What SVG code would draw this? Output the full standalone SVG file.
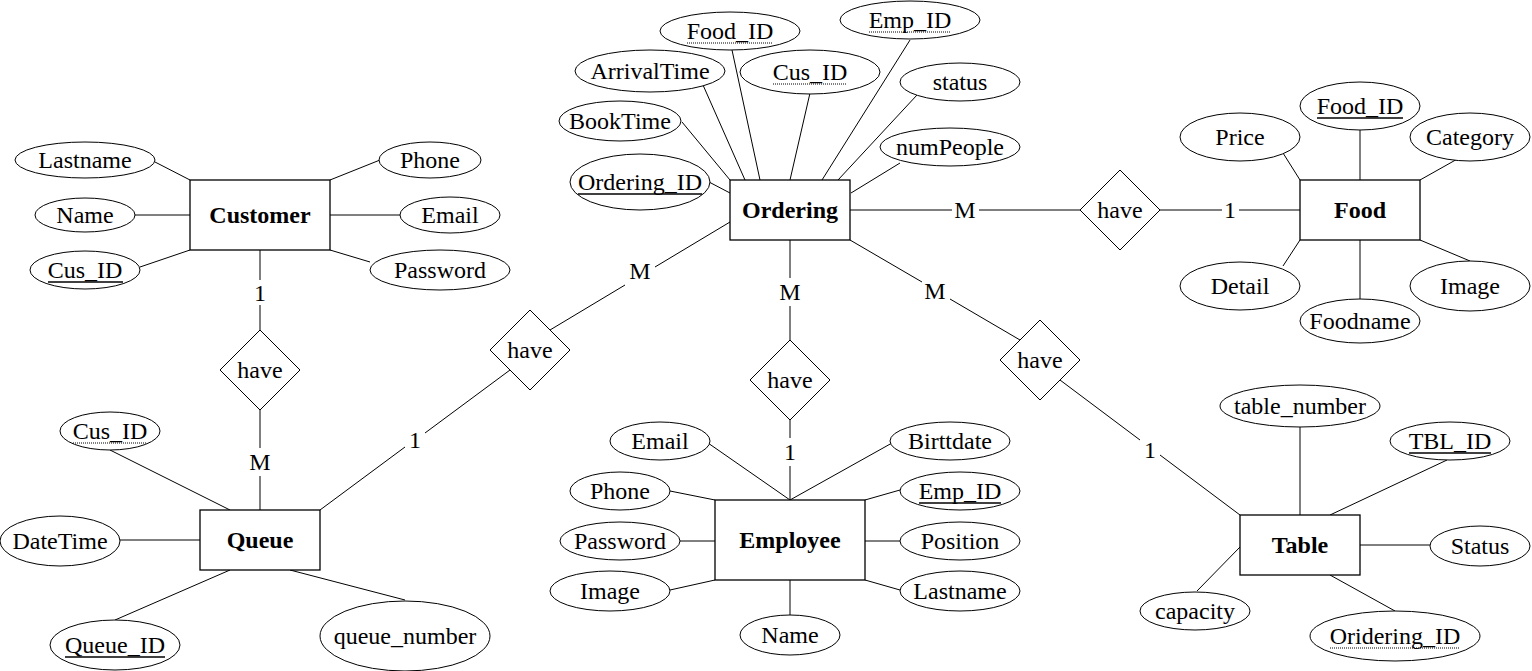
<svg xmlns="http://www.w3.org/2000/svg" width="1532" height="671" viewBox="0 0 1532 671">
<style>
text{font-family:"Liberation Serif","Times New Roman",serif;font-size:24px;text-anchor:middle;fill:#000}
.b{font-weight:bold}
ellipse,rect.n,polygon{fill:#fff;stroke:#000;stroke-width:1}
rect.n{stroke-width:1.3}
rect.bg{fill:#fff;stroke:none}
line{stroke:#000;stroke-width:1}
.u{stroke-width:1.5}
.d{stroke-width:1.2;stroke-dasharray:1 1}
</style>
<rect class="bg" width="1532" height="671"/>
<g id="connectors">
<line x1="155" y1="162" x2="190" y2="180"/>
<line x1="135" y1="215" x2="190" y2="215"/>
<line x1="140" y1="267" x2="190" y2="250"/>
<line x1="380" y1="160" x2="330" y2="180"/>
<line x1="400" y1="215" x2="330" y2="215"/>
<line x1="370" y1="262" x2="330" y2="250"/>
<line x1="260" y1="250" x2="260" y2="280"/>
<line x1="260" y1="305" x2="260" y2="330"/>
<line x1="260" y1="410" x2="260" y2="448"/>
<line x1="260" y1="476" x2="260" y2="510"/>
<line x1="110" y1="450" x2="230" y2="510"/>
<line x1="120" y1="540" x2="200" y2="540"/>
<line x1="115" y1="620" x2="230" y2="570"/>
<line x1="405" y1="600" x2="290" y2="570"/>
<line x1="682" y1="122" x2="730" y2="180"/>
<line x1="703" y1="85" x2="745" y2="180"/>
<line x1="732" y1="50" x2="760" y2="180"/>
<line x1="810" y1="93" x2="790" y2="180"/>
<line x1="910" y1="40" x2="822" y2="180"/>
<line x1="917" y1="95" x2="838" y2="180"/>
<line x1="900" y1="163" x2="851" y2="193"/>
<line x1="709" y1="182" x2="730" y2="193"/>
<line x1="730" y1="222" x2="655" y2="267"/>
<line x1="625" y1="285" x2="550" y2="330"/>
<line x1="510" y1="370" x2="425" y2="433"/>
<line x1="405" y1="447" x2="320" y2="510"/>
<line x1="790" y1="240" x2="790" y2="278"/>
<line x1="790" y1="306" x2="790" y2="340"/>
<line x1="790" y1="420" x2="790" y2="438"/>
<line x1="790" y1="466" x2="790" y2="500"/>
<line x1="850" y1="210" x2="952" y2="210"/>
<line x1="979" y1="210" x2="1080" y2="210"/>
<line x1="1160" y1="210" x2="1222" y2="210"/>
<line x1="1239" y1="210" x2="1300" y2="210"/>
<line x1="850" y1="240" x2="922" y2="282"/>
<line x1="950" y1="299" x2="1020" y2="340"/>
<line x1="1060" y1="380" x2="1140" y2="440"/>
<line x1="1160" y1="455" x2="1240" y2="515"/>
<line x1="1283" y1="153" x2="1300" y2="180"/>
<line x1="1360" y1="130" x2="1360" y2="180"/>
<line x1="1468" y1="153" x2="1420" y2="180"/>
<line x1="1283" y1="266" x2="1300" y2="240"/>
<line x1="1360" y1="299" x2="1360" y2="240"/>
<line x1="1470" y1="261" x2="1420" y2="240"/>
<line x1="708" y1="443" x2="790" y2="500"/>
<line x1="892" y1="443" x2="790" y2="500"/>
<line x1="670" y1="491" x2="715" y2="500"/>
<line x1="900" y1="490" x2="865" y2="500"/>
<line x1="680" y1="541" x2="715" y2="541"/>
<line x1="900" y1="541" x2="865" y2="541"/>
<line x1="670" y1="590" x2="715" y2="580"/>
<line x1="900" y1="590" x2="865" y2="580"/>
<line x1="790" y1="580" x2="790" y2="615"/>
<line x1="1300" y1="427" x2="1300" y2="515"/>
<line x1="1447" y1="460" x2="1330" y2="515"/>
<line x1="1430" y1="545" x2="1360" y2="545"/>
<line x1="1197" y1="591" x2="1240" y2="547"/>
<line x1="1395" y1="611" x2="1330" y2="575"/>
</g>
<g id="cardinalities">
<text x="260" y="301">1</text>
<text x="260" y="470">M</text>
<text x="640" y="279">M</text>
<text x="415" y="448">1</text>
<text x="790" y="300">M</text>
<text x="790" y="460">1</text>
<text x="965" y="218">M</text>
<text x="1230" y="218">1</text>
<text x="935" y="299">M</text>
<text x="1150" y="458">1</text>
</g>
<g id="customer"><rect class="n" x="190" y="180" width="140" height="70"/><text class="b" x="260" y="223">Customer</text></g>
<g id="ordering"><rect class="n" x="730" y="180" width="120" height="60"/><text class="b" x="790" y="218">Ordering</text></g>
<g id="food"><rect class="n" x="1300" y="180" width="120" height="60"/><text class="b" x="1360" y="218">Food</text></g>
<g id="queue"><rect class="n" x="200" y="510" width="120" height="60"/><text class="b" x="260" y="548">Queue</text></g>
<g id="employee"><rect class="n" x="715" y="500" width="150" height="80"/><text class="b" x="790" y="548">Employee</text></g>
<g id="table"><rect class="n" x="1240" y="515" width="120" height="60"/><text class="b" x="1300" y="553">Table</text></g>
<g id="have-customer-queue"><polygon points="260,330 300,370 260,410 220,370"/><text x="260" y="378">have</text></g>
<g id="have-ordering-queue"><polygon points="530,310 570,350 530,390 490,350"/><text x="530" y="358">have</text></g>
<g id="have-ordering-employee"><polygon points="790,340 830,380 790,420 750,380"/><text x="790" y="388">have</text></g>
<g id="have-ordering-table"><polygon points="1040,320 1080,360 1040,400 1000,360"/><text x="1040" y="368">have</text></g>
<g id="have-ordering-food"><polygon points="1120,170 1160,210 1120,250 1080,210"/><text x="1120" y="218">have</text></g>
<g id="cust-lastname"><ellipse cx="85" cy="160" rx="70" ry="18"/><text x="85" y="168">Lastname</text></g>
<g id="cust-name"><ellipse cx="85" cy="215" rx="50" ry="17"/><text x="85" y="223">Name</text></g>
<g id="cust-id"><ellipse cx="85" cy="270" rx="55" ry="19"/><text x="85" y="278">Cus_ID</text><line class="u" x1="48" y1="282" x2="123" y2="282"/></g>
<g id="cust-phone"><ellipse cx="430" cy="160" rx="51" ry="18"/><text x="430" y="168">Phone</text></g>
<g id="cust-email"><ellipse cx="450" cy="215" rx="50" ry="18"/><text x="450" y="223">Email</text></g>
<g id="cust-password"><ellipse cx="440" cy="270" rx="70" ry="20"/><text x="440" y="278">Password</text></g>
<g id="ord-foodid"><ellipse cx="730" cy="31" rx="70" ry="19"/><text x="730" y="39">Food_ID</text><line class="d" x1="687" y1="43" x2="773" y2="43"/></g>
<g id="ord-empid"><ellipse cx="910" cy="20" rx="70" ry="19"/><text x="910" y="28">Emp_ID</text><line class="d" x1="869" y1="32" x2="951" y2="32"/></g>
<g id="ord-arrival"><ellipse cx="650" cy="71" rx="75" ry="21"/><text x="650" y="79">ArrivalTime</text></g>
<g id="ord-cusid"><ellipse cx="810" cy="72" rx="70" ry="22"/><text x="810" y="80">Cus_ID</text><line class="d" x1="773" y1="84" x2="847" y2="84"/></g>
<g id="ord-status"><ellipse cx="960" cy="82" rx="60" ry="19"/><text x="960" y="90">status</text></g>
<g id="ord-booktime"><ellipse cx="620" cy="121" rx="61" ry="20"/><text x="620" y="129">BookTime</text></g>
<g id="ord-numpeople"><ellipse cx="950" cy="147" rx="70" ry="19"/><text x="950" y="155">numPeople</text></g>
<g id="ord-id"><ellipse cx="640" cy="182" rx="70" ry="28"/><text x="640" y="190">Ordering_ID</text><line class="u" x1="578" y1="194" x2="702" y2="194"/></g>
<g id="food-id"><ellipse cx="1360" cy="106" rx="60" ry="24"/><text x="1360" y="114">Food_ID</text><line class="u" x1="1317" y1="118" x2="1403" y2="118"/></g>
<g id="food-price"><ellipse cx="1240" cy="137" rx="60" ry="24"/><text x="1240" y="145">Price</text></g>
<g id="food-category"><ellipse cx="1470" cy="137" rx="60" ry="24"/><text x="1470" y="145">Category</text></g>
<g id="food-detail"><ellipse cx="1240" cy="286" rx="60" ry="24"/><text x="1240" y="294">Detail</text></g>
<g id="food-image"><ellipse cx="1470" cy="286" rx="60" ry="25"/><text x="1470" y="294">Image</text></g>
<g id="food-name"><ellipse cx="1360" cy="321" rx="60" ry="22"/><text x="1360" y="329">Foodname</text></g>
<g id="tbl-number"><ellipse cx="1300" cy="406" rx="80" ry="21"/><text x="1300" y="414">table_number</text></g>
<g id="tbl-id"><ellipse cx="1450" cy="441" rx="60" ry="19"/><text x="1450" y="449">TBL_ID</text><line class="u" x1="1409" y1="453" x2="1491" y2="453"/></g>
<g id="tbl-status"><ellipse cx="1480" cy="546" rx="50" ry="20"/><text x="1480" y="554">Status</text></g>
<g id="tbl-capacity"><ellipse cx="1195" cy="611" rx="55" ry="19"/><text x="1195" y="619">capacity</text></g>
<g id="tbl-ordid"><ellipse cx="1395" cy="636" rx="85" ry="25"/><text x="1395" y="644">Oridering_ID</text><line class="d" x1="1330" y1="648" x2="1460" y2="648"/></g>
<g id="emp-email"><ellipse cx="660" cy="441" rx="50" ry="19"/><text x="660" y="449">Email</text></g>
<g id="emp-birth"><ellipse cx="950" cy="441" rx="60" ry="19"/><text x="950" y="449">Birttdate</text></g>
<g id="emp-phone"><ellipse cx="620" cy="491" rx="50" ry="19"/><text x="620" y="499">Phone</text></g>
<g id="emp-id"><ellipse cx="960" cy="491" rx="60" ry="19"/><text x="960" y="499">Emp_ID</text><line class="u" x1="919" y1="503" x2="1001" y2="503"/></g>
<g id="emp-password"><ellipse cx="620" cy="541" rx="60" ry="19"/><text x="620" y="549">Password</text></g>
<g id="emp-position"><ellipse cx="960" cy="541" rx="60" ry="19"/><text x="960" y="549">Position</text></g>
<g id="emp-image"><ellipse cx="610" cy="591" rx="60" ry="20"/><text x="610" y="599">Image</text></g>
<g id="emp-lastname"><ellipse cx="960" cy="591" rx="60" ry="20"/><text x="960" y="599">Lastname</text></g>
<g id="emp-name"><ellipse cx="790" cy="635" rx="50" ry="20"/><text x="790" y="643">Name</text></g>
<g id="q-cusid"><ellipse cx="110" cy="431" rx="50" ry="19"/><text x="110" y="439">Cus_ID</text><line class="d" x1="73" y1="443" x2="147" y2="443"/></g>
<g id="q-datetime"><ellipse cx="60" cy="541" rx="60" ry="25"/><text x="60" y="549">DateTime</text></g>
<g id="q-id"><ellipse cx="115" cy="645" rx="65" ry="25"/><text x="115" y="653">Queue_ID</text><line class="u" x1="65" y1="657" x2="165" y2="657"/></g>
<g id="q-number"><ellipse cx="405" cy="636" rx="85" ry="35"/><text x="405" y="644">queue_number</text></g>
</svg>
